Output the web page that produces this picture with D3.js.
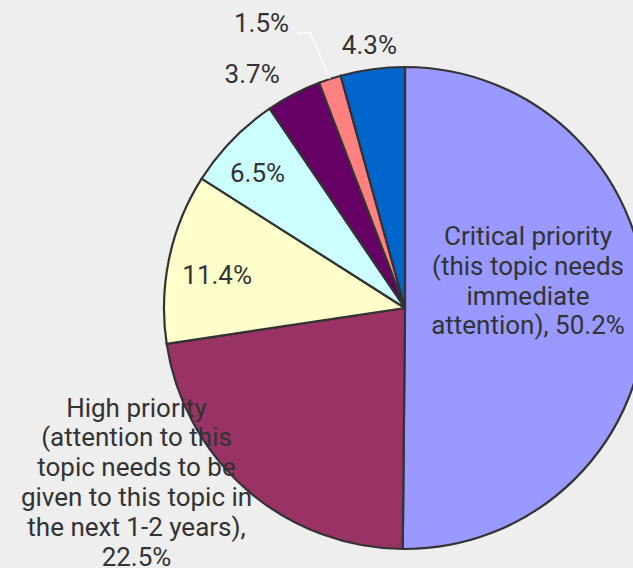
<!DOCTYPE html>
<html><head><meta charset="utf-8">
<script src="https://cdn.jsdelivr.net/npm/d3@7"></script>
<style>
html,body{margin:0;padding:0;background:#eeeeee;}
svg{display:block;}
text{font-family:Roboto,"Liberation Sans",sans-serif;fill:#333333;}
</style></head>
<body>
<svg id="chart" width="633" height="568"></svg>
<script>
const categories = [
  "Critical priority (this topic needs immediate attention)",
  "High priority (attention to this topic needs to be given to this topic in the next 1-2 years)",
  "Medium priority",
  "Low priority",
  "Not a priority",
  "Other",
  "Don't know"
];
const values = [50.2, 22.5, 11.4, 6.5, 3.7, 1.5, 4.3];
const colors = ["#9999ff", "#993366", "#ffffcc", "#ccffff", "#660066", "#ff8080", "#0066cc"];
const labelLines = [
  ["Critical priority", "(this topic needs", "immediate", "attention), 50.2%"],
  ["High priority", "(attention to this", "topic needs to be", "given to this topic in", "the next 1-2 years),", "22.5%"],
  ["11.4%"],
  ["6.5%"],
  ["3.7%"],
  ["1.5%"],
  ["4.3%"]
];

const svg = d3.select("#chart");
const cx = 405, cy = 308, R = 241;
const g = svg.append("g").attr("transform", `translate(${cx},${cy})`);

const pie = d3.pie().sort(null).value(d => d);
const arcs = pie(values);
const arc = d3.arc().innerRadius(0).outerRadius(R);

g.selectAll("path.slice").data(arcs).enter().append("path")
  .attr("class", "slice")
  .attr("d", arc)
  .attr("fill", (d, i) => colors[i])
  .attr("stroke", "#333333")
  .attr("stroke-width", 2.2)
  .attr("stroke-linejoin", "round");

// label layout: radius along mid-angle plus offsets (layout only)
const layout = [
  {r: 125, dx: -2, dy: -28},
  {r: 330, dx: -52, dy: -75},
  {r: 191, dx: -1, dy: 7},
  {r: 200, dx: -4, dy: 4},
  {r: 279, dx: -24, dy: 13},
  {r: 300, dx: -50, dy: 0},
  {r: 265, dx: 0, dy: 0}
];
const lineH = 29.8;
function polar(a, r) { return [Math.sin(a) * r, -Math.cos(a) * r]; }

arcs.forEach((d, i) => {
  const mid = (d.startAngle + d.endAngle) / 2;
  const L = layout[i];
  const p = polar(mid, L.r);
  const x = p[0] + L.dx, y = p[1] + L.dy;
  const lines = labelLines[i];
  const t = g.append("text")
    .attr("text-anchor", "middle")
    .attr("font-size", 26)
    .attr("x", x).attr("y", y);
  lines.forEach((ln, k) => {
    t.append("tspan").attr("x", x)
      .attr("y", y + (k - (lines.length - 1) / 2) * lineH)
      .attr("dominant-baseline", "central")
      .text(ln);
  });
  if (i === 5) {
    const edge = polar(mid, R);
    const elbow = [x + 49, y + 10];
    g.append("polyline")
      .attr("points", [[x + 36, y + 10], elbow, edge].map(q => q.join(",")).join(" "))
      .attr("fill", "none").attr("stroke", "#ffffff").attr("stroke-width", 1.3);
  }
});
</script>
</body></html>
